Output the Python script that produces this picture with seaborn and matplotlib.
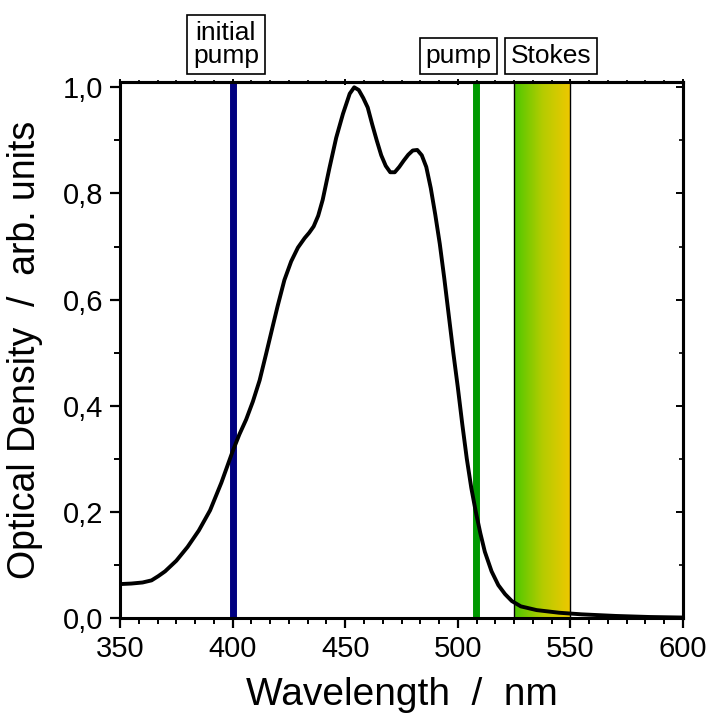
import numpy as np
import pandas as pd
import matplotlib
matplotlib.use("Agg")
import matplotlib.pyplot as plt
import seaborn as sns
from matplotlib.ticker import AutoMinorLocator, FuncFormatter
from matplotlib.colors import LinearSegmentedColormap

# ---- data ----
wavelength = [350, 355, 360, 364, 367, 370, 375, 380, 385, 390, 395, 400, 403, 406,
              409, 412, 415, 418, 420, 423, 426, 429, 432, 434, 436, 438, 440, 443,
              446, 449, 452, 454, 456, 458, 460, 462, 464, 466, 468, 470, 472, 474,
              476, 478, 480, 482, 484, 486, 488, 490, 492, 494, 496, 498, 500, 502,
              504, 506, 508, 510, 512, 515, 518, 521, 524, 528, 535, 545, 555, 570,
              585, 600]
optical_density = [0.064, 0.065, 0.067, 0.071, 0.079, 0.088, 0.108, 0.134, 0.165, 0.203,
                   0.255, 0.314, 0.346, 0.374, 0.408, 0.448, 0.500, 0.553, 0.588, 0.637,
                   0.672, 0.698, 0.716, 0.726, 0.738, 0.758, 0.788, 0.848, 0.905, 0.950,
                   0.988, 1.000, 0.995, 0.980, 0.962, 0.930, 0.900, 0.872, 0.852, 0.840,
                   0.840, 0.850, 0.862, 0.873, 0.881, 0.882, 0.872, 0.850, 0.810, 0.760,
                   0.705, 0.640, 0.570, 0.500, 0.435, 0.365, 0.300, 0.245, 0.200, 0.160,
                   0.125, 0.088, 0.062, 0.045, 0.032, 0.022, 0.015, 0.010, 0.007, 0.004,
                   0.002, 0.001]

initial_pump_nm = 400
pump_nm = 508
stokes_band = [525, 550]
label_texts = ["initial\npump", "pump", "Stokes"]
label_positions = [397, 500.3, 541.4]

x_ticks = [350, 400, 450, 500, 550, 600]
y_ticks = [0.0, 0.2, 0.4, 0.6, 0.8, 1.0]

df = pd.DataFrame({"wl": wavelength, "od": optical_density})

# ---- style ----
sns.set_theme(style="ticks")
plt.rcParams["font.family"] = ["Liberation Sans", "DejaVu Sans"]
for k in ["text.color", "axes.labelcolor", "xtick.color", "ytick.color", "axes.edgecolor"]:
    plt.rcParams[k] = "black"

fig = plt.figure(figsize=(7.06, 7.17), dpi=100)
ax = fig.add_axes([0.170, 0.138, 0.7974, 0.7476])

# Stokes gradient band
cmap = LinearSegmentedColormap.from_list("stokes", ["#4cc800", "#b4cc00", "#f0c800"])
grad = np.linspace(0, 1, 256).reshape(1, -1)
ax.imshow(grad, cmap=cmap, extent=[stokes_band[0], stokes_band[1], 0, 1.01],
          aspect="auto", zorder=1, origin="lower")
for b in stokes_band:
    ax.axvline(b, color="black", lw=1.0, zorder=2)

ax.axvline(initial_pump_nm, color="#000080", lw=5, zorder=2)
ax.axvline(pump_nm, color="#009900", lw=5, zorder=2)

sns.lineplot(data=df, x="wl", y="od", color="black", lw=2.8, ax=ax, zorder=3,
             sort=False, estimator=None)
ax.lines[-1].set_solid_joinstyle("round")

ax.set_xlim(350, 600)
ax.set_ylim(0, 1.01)
ax.set_xticks(x_ticks)
ax.set_yticks(y_ticks)
ax.xaxis.set_minor_locator(AutoMinorLocator(6))
ax.yaxis.set_minor_locator(AutoMinorLocator(2))
ax.yaxis.set_major_formatter(FuncFormatter(lambda v, p: f"{v:.1f}".replace(".", ",")))

for s in ax.spines.values():
    s.set_linewidth(2.2)
    s.set_color("black")
    s.set_visible(True)

ax.tick_params(axis="both", which="major", direction="out", length=7, width=1.6,
               labelsize=21, colors="black", pad=5)
ax.tick_params(axis="both", which="minor", direction="out", length=4, width=1.4,
               colors="black")

secx = ax.secondary_xaxis("top")
secx.set_xticks(x_ticks)
secx.xaxis.set_minor_locator(AutoMinorLocator(6))
secx.tick_params(which="major", direction="inout", length=5, width=1.4, labeltop=False)
secx.tick_params(which="minor", direction="inout", length=3, width=1.2)
secx.spines["top"].set_linewidth(2.2)
secy = ax.secondary_yaxis("right")
secy.set_yticks(y_ticks)
secy.yaxis.set_minor_locator(AutoMinorLocator(2))
secy.tick_params(which="major", direction="in", length=5, width=1.4, labelright=False)
secy.tick_params(which="minor", direction="in", length=3, width=1.2)
secy.spines["right"].set_linewidth(2.2)

ax.set_xlabel("Wavelength  /  nm", fontsize=28, labelpad=10)
ax.set_ylabel("Optical Density  /  arb. units", fontsize=27, labelpad=14)

for txt, pos in zip(label_texts, label_positions):
    ax.annotate(txt, xy=(pos, 1.0), xycoords=("data", "axes fraction"),
                xytext=(0, 10), textcoords="offset points", ha="center", va="bottom",
                fontsize=19, linespacing=0.95,
                bbox=dict(boxstyle="square,pad=0.22", fc="white", ec="black", lw=1.2))

fig.savefig("out.png", dpi=100)
